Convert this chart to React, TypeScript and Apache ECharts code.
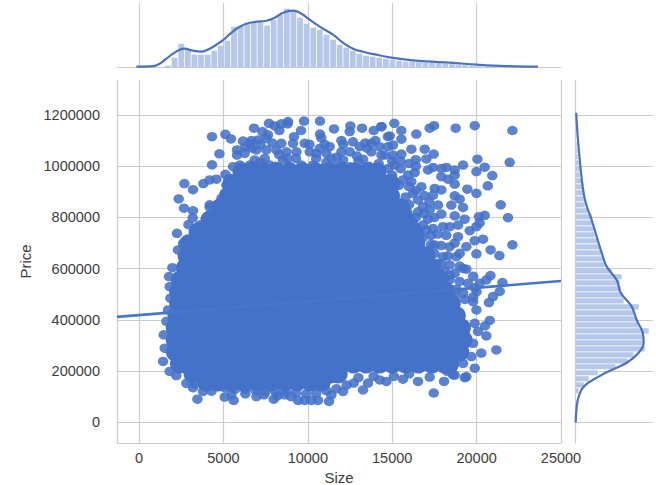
import React, { useEffect, useRef } from "react";
import * as echarts from "echarts";

const xTicks = [0, 5000, 10000, 15000, 20000, 25000];
const yTicks = [0, 200000, 400000, 600000, 800000, 1000000, 1200000];

const regressionLine = [[-1303, 412000], [25000, 552000]];

const topBinSizes = [1720,2111,2502,2893,3284,3675,4066,4457,4848,5239,5630,6021,6412,6803,7194,7585,7976,8367,8758,9149,9540,9931,10322,10713,11104,11495,11886,12277,12668,13059,13450,13841,14232,14623,15014,15405,15796,16187,16578,16969,17360,17751,18142,18533,18924,19315,19706,20097,20488,20879,21270,21661];
const topBinHeights = [2,10,24,18,13,13,13,17,22,27,41,42,45,45,45,42,48,53,59,57,50,44,40,38,33,28,23,20,17,14,12,11,10,9,8,7,6,6,5.5,5,5,4.5,4,3.5,3,2.5,2,1.5,1,0.7,0.5,0.3];
const topKde = [[-154,1],[829,1.5],[1226,4],[1623,9],[2014,14],[2411,18],[2707,19],[3199,17],[3696,16],[4188,19],[4585,23],[5018,28],[5474,35],[5865,40],[6362,44],[6955,46],[7547,47],[8039,50],[8531,55],[9123,57],[9621,54],[10112,48],[10705,41],[11492,33],[12085,25],[12678,19],[13270,16],[14064,13],[14953,10],[15841,8],[17026,6.3],[18405,5],[20000,3],[20972,2],[22358,1.3],[23637,1]];

const rightBinPrices = [123600,147000,170400,193800,217200,240600,264000,287400,310800,334200,357600,381000,404400,427800,451200,474600,498000,521400,544800,568200,591600,615000,638400,661800,685200,708600,732000,755400,778800,802200,825600,849000,872400,895800,919200,942600,966000,989400,1012800,1036200,1059600,1083000];
const rightBinWidths = [3,8,13,22,40,52,58,69,67,67,73,63,60,58,63,48,47,45,44,46,36,29,28,25,24,22,19,18,17,16,12,9,8,8,7,6,4,4,3,2,1.5,1];
const rightKdeWidths = [0.5,2,4.7,7,10,16,21,26,31,41,45,56,61,67,68,63,51,36,23,8,3,1,0];
const rightKdePrices = [1208000,1115000,998000,920000,857000,790000,725000,662000,608000,556000,506000,452000,400000,350000,311000,272000,233000,205000,179000,140000,101000,62000,0];

const corePrices = [977000,931000,884000,837000,790000,743000,697000,650000,603000,556000,509000,463000,416000,369000,322000,275000,228000,189000,158000];
const coreSizes = [
  [6100,6620,7390,8160,8930,9700,10470,11240,12010,12780,13550,14100],
  [5500,5950,6750,7500,8300,9050,9850,10600,11400,12150,12950,13700,14500,14900],
  [5300,5800,6550,7350,8100,8900,9650,10450,11200,12000,12750,13550,14300,14900],
  [4800,5300,6050,6850,7600,8400,9150,9950,10700,11500,12250,13050,13800,14600,15350,15500],
  [4200,4650,5450,6200,7000,7750,8550,9300,10100,10850,11650,12400,13200,13950,14750,15500,15800],
  [3500,4100,4850,5650,6400,7200,7950,8750,9500,10300,11050,11850,12600,13400,14150,14950,15700,16300],
  [2950,3450,4250,5000,5800,6550,7350,8100,8900,9650,10450,11200,12000,12750,13550,14300,15100,15850,16400],
  [2850,3400,4150,4950,5700,6500,7250,8050,8800,9600,10350,11150,11900,12700,13450,14250,15000,15800,16550,17000],
  [2750,3250,3800,4600,5350,6150,6900,7700,8450,9250,10000,10800,11550,12350,13100,13900,14650,15450,16200,17000,17300],
  [2450,2950,3750,4500,5300,6050,6850,7600,8400,9150,9950,10700,11500,12250,13050,13800,14600,15350,16150,16900,17700,17800],
  [2350,2800,3400,4200,4950,5750,6500,7300,8050,8850,9600,10400,11150,11950,12700,13500,14250,15050,15800,16600,17350,18100,18200],
  [2350,2850,3650,4400,5200,5950,6750,7500,8300,9050,9850,10600,11400,12150,12950,13700,14500,15250,16050,16800,17600,18350,18500],
  [2250,2700,3350,4150,4900,5700,6450,7250,8000,8800,9550,10350,11100,11900,12650,13450,14200,15000,15750,16550,17300,18100,18800],
  [2150,2700,3500,4250,5050,5800,6600,7350,8150,8900,9700,10450,11250,12000,12800,13550,14350,15100,15900,16650,17450,18200,19000,19100],
  [2150,2600,3250,4050,4800,5600,6350,7150,7900,8700,9450,10250,11000,11800,12550,13350,14100,14900,15650,16450,17200,18000,18750,19200],
  [2150,2700,3450,4250,5000,5800,6550,7350,8100,8900,9650,10450,11200,12000,12750,13550,14300,15100,15850,16650,17400,18200,19000],
  [2400,2750,3400,4150,4950,5700,6500,7250,8050,8800,9600,10350,11150,11900,12700,13450,14250,15000,15800,16550,17350,18100,18400],
  [3200,3600,4400,5150,5950,6700,7500,8250,9050,9800,10600,11350,11800],
  [4000,4700,5500,6250,7050,7800,8600,9350,10150,10800],
];

const rimPoints = [
  [4325,1115000],[5118,1124000],[5450,1106000],[4763,1048000],[4325,1005000],[5118,968000],[2689,932000],[3199,908000],[3815,932000],[4188,946000],[4585,949000],[2352,872000],[2666,836000],[3199,826000],[4188,849000],[4188,840000],[2926,772000],[3181,798000],[2251,738000],[2310,673000],[2609,699000],[3597,770000],[4387,810000],[4880,874000],[5177,926000],[5572,998000],[5374,952000],
  [6813,1148000],[7701,1167000],[8039,1157000],[8436,1165000],[8827,1174000],[8800,1165000],[9775,1176000],[10723,1176000],[11552,1145000],[12524,1157000],[13211,1148000],[14360,1154000],[13904,1139000],[9597,1139000],[8317,1139000],[7310,1135000],[6161,1098000],[6659,1100000],[7642,1122000],[9182,1115000],[10723,1125000],[10800,1110000],[12482,1135000],[11990,1100000],[12678,1095000],[13767,1089000],[14259,1076000],[14750,1115000],
  [5808,1063000],[5808,1043000],[6263,1050000],[6559,1089000],[7053,1102000],[7546,1108000],[6954,1063000],[7546,1063000],[7448,1030000],[6855,1024000],[8139,1063000],[8435,1089000],[9127,1089000],[8731,1056000],[9324,1056000],[9818,1089000],[10114,1056000],[10706,1069000],[11102,1050000],[10509,1050000],[11299,1076000],[11398,1030000],[11990,1056000],[12484,1056000],[13076,1076000],[12089,1024000],[13274,1027000],[13767,1056000],[14360,1043000],[14755,1076000],[8534,1024000],[7744,1004000],[5967,1004000],[6559,1004000],[9620,1004000],[10311,1004000],[10904,991000],[11694,985000],[12484,998000],[13076,985000],[14064,972000],[14755,991000],
  [15127,1167000],[15540,1139000],[16430,1125000],[17220,1148000],[17480,1158000],[18760,1148000],[19890,1158000],[22120,1139000],[21960,1015000],[20050,1027000],[20480,996000],[19990,979000],[20930,963000],[20660,923000],[19990,894000],[19450,910000],[21430,849000],[21860,799000],[20480,808000],[20140,803000],[20180,779000],[22120,693000],[20830,673000],[21350,651000],[19990,658000],[20380,715000],[20820,573000],[21530,546000],[21370,511000],[20970,491000],[20730,468000],[20780,398000],[20500,377000],[20580,338000],[21170,283000],[20280,271000],[19890,212000],[19990,439000],
  [14358,1154000],[14851,1118000],[15049,1082000],[15543,1105000],[14555,1043000],[15049,1043000],[15543,1047000],[15148,1004000],[16135,1066000],[16925,1066000],[17459,1047000],[17024,1028000],[17123,985000],[17419,995000],[17913,991000],[18209,995000],[18703,985000],[19197,1004000],[17913,959000],[18308,949000],[18703,930000],[18703,965000],[16333,975000],[15938,965000],[15642,946000],[16135,940000],[16728,920000],[17518,913000],[17913,907000],[17419,887000],[18703,884000],[18999,871000],[17715,848000],[18505,848000],[19197,839000],[17222,829000],[17913,813000],[18703,806000],[19295,793000],[17123,793000],[16530,868000],[16234,894000],[16826,842000],[16530,822000],[17419,757000],[18011,764000],[18406,764000],[18900,770000],[19592,748000],[19987,764000],[16826,770000],[16234,783000],[16629,731000],[17024,751000],[18900,725000],[19888,709000],[17518,692000],[18407,686000],[19394,686000],[18801,647000],[18011,647000],[17222,640000],[16629,666000],[16728,608000],[17617,621000],[17814,582000],[18703,582000],[19197,601000],[19394,598000],[18999,550000],[20184,543000],[20579,556000],[19493,543000],[18407,556000],[17617,543000],[17222,562000],
  [19789,471000],[19888,387000],[20085,355000],[19789,309000],[19690,257000],[19197,231000],[18703,185000],[19394,179000],[18240,200000],
  [3460,91000],[5077,99000],[5475,108000],[5610,86000],[3792,121000],[3199,136000],[6955,101000],[7980,91000],[8632,108000],[9420,86000],[9816,86000],[10213,86000],[10604,86000],[11256,82000],[11398,108000],[12085,121000],[13270,127000],[12720,154000],[13566,154000],[14260,166000],[14656,160000],[17460,115000],[18070,160000],[16530,160000],[17220,177000],[15640,169000],[18600,186000],[19300,175000],[15100,180000],[16000,190000],[13000,175000],[13900,180000],
  [1977,604000],[1780,569000],[1819,530000],[1859,485000],[1720,439000],[1622,394000],[1464,342000],[1523,290000],[1424,238000],[1819,199000],[2214,183000],[2807,153000],
  [3300,150000],[3900,148000],[4500,143000],[5100,135000],[5700,130000],[6300,128000],[6900,125000],[7500,120000],[8100,118000],[8700,122000],[9300,116000],[9900,112000],[10500,114000],[11100,124000],[11700,132000],[12300,146000],[6300,112000],[7400,108000],[8200,104000],[9000,101000],[4300,122000],
  [6300,1075000],[6700,1070000],[7200,1085000],[7900,1090000],[8300,1045000],[8800,1030000],[9300,1030000],[10100,1085000],[10500,1030000],[11000,1085000],[11700,1035000],[12100,1085000],[12900,1040000],[13400,1090000],[13000,1020000],[13600,1000000],[14200,1010000],[7000,1000000],[7200,1015000],[8100,1000000],[8900,1000000],[11100,1015000],[11700,1000000],[12000,1000000],[13500,1070000],[14000,1100000],[15000,1020000],[15500,1020000],[16000,1010000],[16400,1025000],[16400,1000000],[15500,990000],[15000,965000],[15400,925000],[15000,950000],[16000,920000],[16400,905000],[15800,880000],[16900,885000],[16000,850000],[17200,860000],[15900,820000],[16900,815000],[17500,800000],[16400,800000],[16800,720000],[17300,730000],[17700,735000],[18200,730000],[17300,695000],[17900,690000],[18700,700000],[16900,650000],[17500,660000],[18300,650000],[19000,660000],[17900,620000],[18400,615000],[19000,610000],[18100,590000],[18400,575000],[19800,570000],[19900,525000],[19200,505000],[18800,520000],[18700,490000],[19300,480000],[19800,490000],[20000,510000],
];

const corePoints = corePrices.flatMap((price, i) => coreSizes[i].map((size) => [size, price]));

const GRID_COLOR = "#cccccc";
const DOT = "#4472c8";
const BAR = "#b5c8e9";
const INK = "#3c3c3c";
const FONT = "'Liberation Sans', Arial, sans-serif";

const xRange = { min: -1303, max: 25000 };
const yRange = { min: -80000, max: 1336000 };

const topBars = topBinSizes.map((s, i) => [s, topBinHeights[i]]);
const rightBars = rightBinPrices.map((p, i) => [rightBinWidths[i], p]);
const rightKde = rightKdePrices.map((p, i) => [rightKdeWidths[i], p]);

function renderTopBar(_: any, api: any) {
  const a = api.coord([api.value(0) - 172, api.value(1)]);
  const b = api.coord([api.value(0) + 172, 0]);
  return { type: "rect", shape: { x: a[0], y: a[1], width: b[0] - a[0], height: b[1] - a[1] }, style: { fill: BAR } };
}
function renderRightBar(_: any, api: any) {
  const a = api.coord([0, api.value(1) + 10000]);
  const b = api.coord([api.value(0), api.value(1) - 10000]);
  return { type: "rect", shape: { x: a[0], y: a[1], width: b[0] - a[0], height: b[1] - a[1] }, style: { fill: BAR } };
}

export default function App() {
  const ref = useRef<HTMLDivElement>(null);
  useEffect(() => {
    const chart = echarts.init(ref.current!, null, { renderer: "svg" });
    const line = { onZero: false, lineStyle: { color: GRID_COLOR, width: 1.2 } };
    const split = { lineStyle: { color: GRID_COLOR, width: 1.2 } };
    const off = { show: false };
    const plain = (v: number) => String(v);
    chart.setOption({
      animation: false,
      backgroundColor: "#ffffff",
      textStyle: { fontFamily: FONT },
      grid: [
        { left: 117, top: 80, width: 444, height: 363, outerBoundsMode: "none" },
        { left: 117, top: 3, width: 444, height: 64.7, outerBoundsMode: "none" },
        { left: 575.7, top: 80, width: 77, height: 363, outerBoundsMode: "none" },
      ],
      xAxis: [
        {
          gridIndex: 0, type: "value", ...xRange,
          name: "Size", nameLocation: "middle", nameGap: 23,
          nameTextStyle: { color: INK, fontSize: 15, fontFamily: FONT },
          axisLine: { show: true, ...line }, axisTick: { show: false, customValues: xTicks },
          axisLabel: { customValues: xTicks, formatter: plain, color: INK, fontSize: 14.5, margin: 7, fontFamily: FONT },
          splitLine: { show: true, ...split },
        },
        {
          gridIndex: 1, type: "value", ...xRange,
          axisLine: { show: true, ...line }, axisTick: { show: false, customValues: xTicks.slice(0, 5) },
          axisLabel: off, splitLine: { show: true, ...split },
        },
        { gridIndex: 2, type: "value", min: 0, max: 77, show: false },
      ],
      yAxis: [
        {
          gridIndex: 0, type: "value", ...yRange,
          name: "Price", nameLocation: "middle", nameGap: 82,
          nameTextStyle: { color: INK, fontSize: 15, fontFamily: FONT },
          axisLine: { show: true, ...line }, axisTick: { show: false, customValues: yTicks },
          axisLabel: { customValues: yTicks, formatter: plain, color: INK, fontSize: 14.5, margin: 17, fontFamily: FONT },
          splitLine: { show: true, ...split },
        },
        { gridIndex: 1, type: "value", min: 0, max: 64.7, show: false },
        {
          gridIndex: 2, type: "value", ...yRange,
          axisLine: { show: true, ...line }, axisTick: { show: false, customValues: yTicks },
          axisLabel: off, splitLine: { show: true, ...split },
        },
      ],
      series: [
        {
          type: "scatter", xAxisIndex: 0, yAxisIndex: 0, data: corePoints, symbolSize: 19,
          itemStyle: { color: DOT, opacity: 1 }, silent: true, z: 2,
        },
        {
          type: "scatter", xAxisIndex: 0, yAxisIndex: 0, data: rimPoints, symbolSize: [10.5, 9.5],
          itemStyle: { color: DOT, opacity: 0.88 }, silent: true, z: 3,
        },
        {
          type: "line", xAxisIndex: 0, yAxisIndex: 0, data: regressionLine, symbol: "none",
          lineStyle: { color: "#4876cc", width: 2.6 }, silent: true, z: 4,
        },
        { type: "custom", xAxisIndex: 1, yAxisIndex: 1, data: topBars, renderItem: renderTopBar, silent: true, z: 2 },
        {
          type: "line", xAxisIndex: 1, yAxisIndex: 1, data: topKde, smooth: 0.4, symbol: "none",
          lineStyle: { color: "#4a72c0", width: 2.2 }, silent: true, z: 3,
        },
        { type: "custom", xAxisIndex: 2, yAxisIndex: 2, data: rightBars, renderItem: renderRightBar, silent: true, z: 2 },
        {
          type: "line", xAxisIndex: 2, yAxisIndex: 2, data: rightKde, smooth: 0.4, symbol: "none",
          lineStyle: { color: "#4a72c0", width: 2.2 }, silent: true, z: 3,
        },
      ],
    });
    return () => chart.dispose();
  }, []);
  return <div ref={ref} style={{ position: "fixed", left: 0, top: 0, width: 656, height: 485 }} />;
}
